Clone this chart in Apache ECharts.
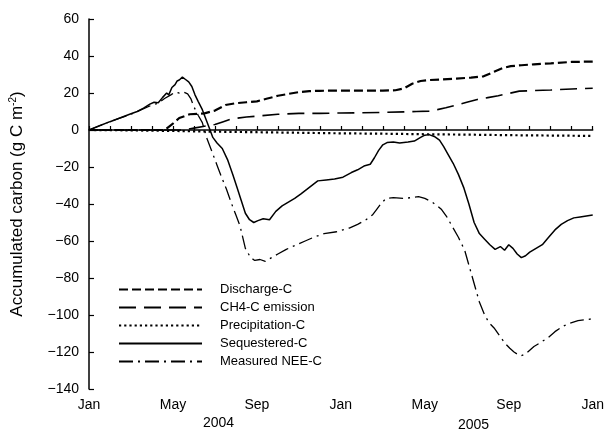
<!DOCTYPE html>
<html><head><meta charset="utf-8">
<script src="https://cdn.jsdelivr.net/npm/echarts@6/dist/echarts.min.js"></script>
<style>html,body{margin:0;padding:0;background:#fff}#c{width:607px;height:431px}</style>
</head><body><div id="c"></div>
<script>
// x values are months since Jan 2004 (0 = Jan 2004, 24 = Jan 2006)
var monthNames = ['Jan', 'May', 'Sep'];
var yearLabels = ['2004', '2005'];
var seriesNames = ['Discharge-C', 'CH4-C emission', 'Precipitation-C', 'Sequestered-C', 'Measured NEE-C'];

var dischargeM = [0, 3.6, 4.0, 4.3, 4.8, 5.5, 6.0, 6.5, 7.0, 7.5, 8.0, 8.5, 9.0, 9.5, 10.0, 10.5, 11.0, 12.0, 13.0, 14.0, 14.6, 15.0, 15.4, 15.8, 16.2, 16.8, 17.5, 18.2, 18.8, 19.3, 19.7, 20.1, 20.6, 21.2, 22.0, 23.0, 24.0];
var dischargeV = [0, 0, 3.5, 6.5, 8.5, 9, 10.5, 13.5, 14.5, 15, 15.5, 17, 18.5, 19.5, 20.5, 21, 21.2, 21.3, 21.3, 21.3, 21.5, 22.5, 25, 26.5, 27, 27.3, 27.8, 28.3, 29, 31.5, 33.5, 34.5, 35, 35.5, 36, 36.8, 37];

var ch4M = [0, 4.5, 5.0, 5.5, 6.0, 6.4, 6.8, 7.5, 8.0, 9.0, 10.0, 11.0, 12.0, 13.0, 14.0, 15.0, 15.6, 16.2, 16.6, 17.0, 17.5, 18.0, 18.5, 19.0, 19.5, 19.9, 20.5, 21.2, 22.0, 23.0, 24.0];
var ch4V = [0, 0, 1, 2, 3, 4.5, 6, 7, 7.5, 8.5, 9, 9, 9.2, 9.3, 9.5, 9.8, 10, 10.2, 11, 12, 13.5, 15, 16.5, 17.5, 18.5, 19.5, 21, 21.3, 21.6, 22.2, 22.6];

var precipM = [0, 2, 4, 6, 8, 10, 12, 14, 16, 18, 20, 22, 24];
var precipV = [0, -0.2, -0.5, -0.9, -1.2, -1.5, -1.8, -2.0, -2.3, -2.5, -2.8, -3.0, -3.2];

var seqM = [0, 0.5, 1, 1.5, 2, 2.3, 2.6, 2.9, 3.1, 3.3, 3.5, 3.7, 3.8, 3.95, 4.1, 4.2, 4.3, 4.45, 4.6, 4.75, 4.9, 5.05, 5.2, 5.4, 5.6, 5.75, 5.9, 6.1, 6.35, 6.6, 6.85, 7.05, 7.25, 7.45, 7.65, 7.85, 8.05, 8.3, 8.6, 8.9, 9.2, 9.5, 9.8, 10.1, 10.5, 10.9, 11.3, 11.7, 12.1, 12.5, 12.8, 13.1, 13.4, 13.6, 13.8, 14.0, 14.2, 14.5, 14.8, 15.2, 15.5, 15.8, 16.0, 16.2, 16.45, 16.7, 16.9, 17.1, 17.35, 17.6, 17.85, 18.1, 18.35, 18.6, 18.85, 19.1, 19.35, 19.6, 19.8, 20.0, 20.2, 20.4, 20.6, 20.8, 21.0, 21.3, 21.6, 21.9, 22.2, 22.5, 22.8, 23.1, 23.4, 23.7, 24];
var seqV = [0, 2.3, 4.5, 6.6, 8.8, 10, 11.8, 14, 15, 14.7, 17.5, 20, 19, 23, 24.5, 26.5, 27, 28.6, 27.3, 26, 23.5, 19, 15.5, 11, 5, 0.5, -4, -7, -10, -16, -24, -31, -38, -45, -48.5, -50, -49, -48, -48.5, -44, -41, -39, -37, -34.5, -31, -27.5, -27, -26.5, -25.5, -23, -21.5, -19.5, -18.5, -15, -11, -8, -6.8, -6.5, -7, -6.5, -6, -4, -2.8, -2.5, -3.5, -5.5, -9, -13, -18, -24, -31, -40, -50, -56, -59, -62, -64.5, -63, -65, -62, -64, -67, -69, -68, -66, -64, -62, -58, -54, -51, -49, -47.5, -47, -46.5, -46];

var neeM = [0, 0.5, 1, 1.5, 2, 2.5, 3, 3.3, 3.6, 3.9, 4.1, 4.3, 4.5, 4.7, 4.85, 5.0, 5.2, 5.4, 5.6, 5.9, 6.1, 6.3, 6.55, 6.8, 7.0, 7.2, 7.45, 7.7, 7.9, 8.15, 8.4, 8.7, 9.0, 9.4, 9.9, 10.3, 10.7, 11.2, 11.8, 12.4, 12.8, 13.2, 13.5, 13.7, 13.9, 14.15, 14.5, 15.0, 15.4, 15.7, 16.0, 16.35, 16.6, 16.8, 17.05, 17.3, 17.6, 17.9, 18.15, 18.4, 18.6, 18.85, 19.05, 19.3, 19.55, 19.8, 20.05, 20.25, 20.45, 20.6, 20.8, 21.0, 21.2, 21.5, 21.9, 22.2, 22.6, 22.9, 23.3, 23.7, 24];
var neeV = [0, 2.3, 4.5, 6.6, 8.5, 11, 13.5, 14.5, 17, 19, 20.5, 20, 20.5, 19.5, 17, 12.5, 8, 4, -4, -13, -19, -25, -32, -40, -46, -52, -64, -69, -70.5, -70, -71, -69, -67, -64.5, -62, -60, -58, -56, -55, -53, -51, -48.5, -46, -43, -40, -37, -36.5, -37, -36.5, -36, -37, -39, -41, -43, -47, -52, -58, -65, -75, -85, -93, -100, -104, -107, -111, -115, -118, -120, -121.5, -122, -121, -119, -117, -115, -112, -109, -106, -104.5, -103, -102.5, -102];

var yMin = -140, yMax = 60, yStep = 20;

function pairs(m, v) { return m.map(function (x, i) { return [x, v[i]]; }); }

var FONT = '"Liberation Sans", Arial, sans-serif';
var dashes = [[9, 4], [17, 8], [2.2, 3], 'solid', [14, 5, 2, 5]];
var widths = [2.2, 1.6, 2.2, 1.5, 1.3];
var dataSets = [pairs(dischargeM, dischargeV), pairs(ch4M, ch4V), pairs(precipM, precipV), pairs(seqM, seqV), pairs(neeM, neeV)];

var chart = echarts.init(document.getElementById('c'), null, { renderer: 'canvas' });
chart.setOption({
  animation: false,
  backgroundColor: '#fff',
  grid: { left: 88, right: 7, top: 19, bottom: 42 },
  legend: {
    orient: 'vertical', left: 113, top: 278, itemWidth: 83, itemHeight: 14, itemGap: 5,
    data: seriesNames,
    itemStyle: { opacity: 0, borderWidth: 0 },
    textStyle: { fontFamily: FONT, fontSize: 13, color: '#000', padding: [0, 0, 0, 13] }
  },
  xAxis: {
    type: 'value', min: 0, max: 24, interval: 1,
    axisLine: { lineStyle: { color: '#000', width: 1.5 } },
    axisTick: { inside: true, length: 4, lineStyle: { color: '#000', width: 1.2 } },
    splitLine: { show: false },
    axisLabel: {
      margin: 9, fontFamily: FONT, fontSize: 14, color: '#000',
      formatter: function (v) { return v % 4 === 0 ? monthNames[(v % 12) / 4] : ''; }
    }
  },
  yAxis: {
    type: 'value', min: yMin, max: yMax, interval: yStep,
    name: 'Accumulated carbon (g C m{sup|-2})', nameLocation: 'middle', nameGap: 62,
    nameTextStyle: {
      fontFamily: FONT, fontSize: 17, color: '#000',
      rich: { sup: { fontFamily: FONT, fontSize: 10, color: '#000', verticalAlign: 'bottom', padding: [0, 0, 9, 0] } }
    },
    axisLine: { show: true, lineStyle: { color: '#000', width: 1.5 } },
    axisTick: { show: true, inside: true, length: 5, lineStyle: { color: '#000', width: 1.2 } },
    splitLine: { show: false },
    axisLabel: {
      margin: 10, fontFamily: FONT, fontSize: 14, color: '#000',
      formatter: function (v) { return v < 0 ? '\u2212' + Math.abs(v) : String(v); }
    }
  },
  graphic: [
    { type: 'text', left: 203, top: 416, style: { text: yearLabels[0], font: '14px ' + FONT, fill: '#000' } },
    { type: 'text', left: 458, top: 418, style: { text: yearLabels[1], font: '14px ' + FONT, fill: '#000' } }
  ],
  series: seriesNames.map(function (n, i) {
    return {
      name: n, type: 'line', data: dataSets[i], symbol: 'none', smooth: false,
      lineStyle: { color: '#000', width: widths[i], type: dashes[i] },
      itemStyle: { color: '#000' }
    };
  })
});
</script></body></html>
